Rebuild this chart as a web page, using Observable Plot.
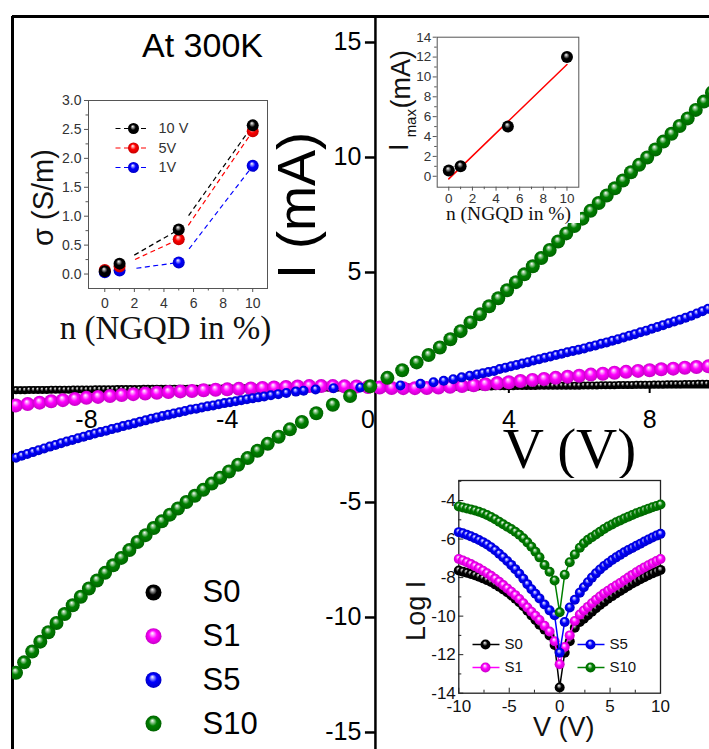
<!DOCTYPE html>
<html>
<head>
<meta charset="utf-8">
<script src="https://cdn.jsdelivr.net/npm/d3@7"></script>
<script src="https://cdn.jsdelivr.net/npm/@observablehq/plot@0.6"></script>
<style>
html,body{margin:0;padding:0;background:#fff;}
#chart{position:relative;width:709px;height:749px;overflow:hidden;background:#fff;}
#chart .layer{position:absolute;display:block;}
</style>
</head>
<body>
<div id="chart"></div>
<script>
// ================= DATA =================
// Main I–V curves: [V (V), I (mA)]
const S0V = [-10,-9.875,-9.75,-9.625,-9.5,-9.375,-9.25,-9.125,-9,-8.875,-8.75,-8.625,-8.5,-8.375,-8.25,-8.125,-8,-7.875,-7.75,-7.625,-7.5,-7.375,-7.25,-7.125,-7,-6.875,-6.75,-6.625,-6.5,-6.375,-6.25,-6.125,-6,-5.875,-5.75,-5.625,-5.5,-5.375,-5.25,-5.125,-5,-4.875,-4.75,-4.625,-4.5,-4.375,-4.25,-4.125,-4,-3.875,-3.75,-3.625,-3.5,-3.375,-3.25,-3.125,-3,-2.875,-2.75,-2.625,-2.5,-2.375,-2.25,-2.125,-2,-1.875,-1.75,-1.625,-1.5,-1.375,-1.25,-1.125,-1,-0.875,-0.75,-0.625,-0.5,-0.375,-0.25,-0.125,0,0.125,0.25,0.375,0.5,0.625,0.75,0.875,1,1.125,1.25,1.375,1.5,1.625,1.75,1.875,2,2.125,2.25,2.375,2.5,2.625,2.75,2.875,3,3.125,3.25,3.375,3.5,3.625,3.75,3.875,4,4.125,4.25,4.375,4.5,4.625,4.75,4.875,5,5.125,5.25,5.375,5.5,5.625,5.75,5.875,6,6.125,6.25,6.375,6.5,6.625,6.75,6.875,7,7.125,7.25,7.375,7.5,7.625,7.75,7.875,8,8.125,8.25,8.375,8.5,8.625,8.75,8.875,9,9.125,9.25,9.375,9.5,9.625,9.75,9.875,10];
const S0I = [-0.12,-0.12,-0.12,-0.11,-0.11,-0.11,-0.11,-0.11,-0.10,-0.10,-0.10,-0.10,-0.10,-0.09,-0.09,-0.09,-0.09,-0.09,-0.08,-0.08,-0.08,-0.08,-0.08,-0.07,-0.07,-0.07,-0.07,-0.07,-0.07,-0.06,-0.06,-0.06,-0.06,-0.06,-0.06,-0.05,-0.05,-0.05,-0.05,-0.05,-0.05,-0.05,-0.04,-0.04,-0.04,-0.04,-0.04,-0.04,-0.04,-0.04,-0.03,-0.03,-0.03,-0.03,-0.03,-0.03,-0.03,-0.03,-0.03,-0.02,-0.02,-0.02,-0.02,-0.02,-0.02,-0.02,-0.02,-0.02,-0.01,-0.01,-0.01,-0.01,-0.01,-0.01,-0.01,-0.01,0,0,0,0,0,0,0,0,0,0.01,0.01,0.01,0.01,0.01,0.01,0.01,0.02,0.02,0.02,0.02,0.02,0.02,0.02,0.03,0.03,0.03,0.03,0.03,0.04,0.04,0.04,0.04,0.04,0.05,0.05,0.05,0.05,0.05,0.06,0.06,0.06,0.06,0.06,0.07,0.07,0.07,0.07,0.07,0.08,0.08,0.08,0.08,0.08,0.09,0.09,0.09,0.09,0.10,0.10,0.10,0.10,0.11,0.11,0.11,0.11,0.12,0.12,0.12,0.12,0.13,0.13,0.13,0.14,0.14,0.14,0.14,0.15,0.15,0.15,0.16,0.16,0.16,0.17,0.17,0.17];
const S1V = [-10,-9.67,-9.33,-9,-8.67,-8.33,-8,-7.67,-7.33,-7,-6.67,-6.33,-6,-5.67,-5.33,-5,-4.67,-4.33,-4,-3.67,-3.33,-3,-2.67,-2.33,-2,-1.67,-1.33,-1,-0.67,-0.33,0,0.33,0.67,1,1.33,1.67,2,2.33,2.67,3,3.33,3.67,4,4.33,4.67,5,5.33,5.67,6,6.33,6.67,7,7.33,7.67,8,8.33,8.67,9,9.33,9.67,10];
const S1I = [-0.78,-0.72,-0.66,-0.6,-0.55,-0.5,-0.45,-0.41,-0.37,-0.33,-0.29,-0.26,-0.23,-0.2,-0.17,-0.15,-0.12,-0.1,-0.08,-0.06,-0.04,-0.02,0,0.02,0.04,0.06,0.06,0.06,0.05,0.04,0.02,0,-0.02,-0.03,-0.03,-0.02,0,0.03,0.06,0.1,0.14,0.19,0.23,0.28,0.33,0.37,0.42,0.47,0.51,0.56,0.6,0.64,0.68,0.72,0.75,0.79,0.82,0.86,0.89,0.92,0.96];
const S5 = [[-10,-3.05],[-9.84,-2.97],[-9.68,-2.89],[-9.52,-2.81],[-9.36,-2.73],[-9.2,-2.65],[-9.04,-2.57],[-8.88,-2.5],[-8.72,-2.42],[-8.56,-2.35],[-8.4,-2.28],[-8.24,-2.21],[-8.08,-2.14],[-7.92,-2.07],[-7.76,-2],[-7.6,-1.94],[-7.44,-1.88],[-7.28,-1.81],[-7.12,-1.75],[-6.96,-1.68],[-6.8,-1.62],[-6.64,-1.56],[-6.48,-1.49],[-6.32,-1.43],[-6.16,-1.36],[-6,-1.3],[-5.84,-1.24],[-5.68,-1.19],[-5.52,-1.13],[-5.36,-1.08],[-5.2,-1.02],[-5.04,-0.96],[-4.88,-0.92],[-4.72,-0.87],[-4.56,-0.82],[-4.4,-0.78],[-4.24,-0.73],[-4.08,-0.68],[-3.92,-0.64],[-3.76,-0.6],[-3.6,-0.55],[-3.44,-0.51],[-3.28,-0.47],[-3.12,-0.43],[-2.95,-0.39],[-2.76,-0.34],[-2.55,-0.29],[-2.32,-0.24],[-2.05,-0.18],[-1.83,-0.14],[-1.49,-0.09],[-0.98,-0.03],[-0.22,0],[0.92,0.09],[1.49,0.16],[1.86,0.23],[2.15,0.29],[2.42,0.36],[2.66,0.44],[2.89,0.51],[3.1,0.57],[3.26,0.62],[3.42,0.67],[3.58,0.72],[3.74,0.8],[3.9,0.86],[4.06,0.92],[4.22,0.98],[4.38,1.04],[4.54,1.1],[4.7,1.17],[4.86,1.23],[5.02,1.29],[5.18,1.35],[5.34,1.41],[5.5,1.47],[5.66,1.53],[5.82,1.59],[5.98,1.64],[6.14,1.7],[6.3,1.77],[6.46,1.83],[6.62,1.9],[6.78,1.96],[6.94,2.03],[7.1,2.1],[7.26,2.17],[7.42,2.25],[7.58,2.32],[7.74,2.4],[7.9,2.47],[8.06,2.55],[8.22,2.63],[8.38,2.71],[8.54,2.79],[8.7,2.87],[8.86,2.95],[9.02,3.03],[9.18,3.12],[9.34,3.22],[9.5,3.32],[9.66,3.42],[9.82,3.52],[9.98,3.63]];
const S10 = [[-10,-12.4],[-9.77,-11.95],[-9.54,-11.48],[-9.31,-11.05],[-9.08,-10.64],[-8.85,-10.24],[-8.62,-9.85],[-8.39,-9.47],[-8.16,-9.1],[-7.93,-8.74],[-7.7,-8.39],[-7.47,-8.06],[-7.24,-7.73],[-7.01,-7.41],[-6.78,-7.07],[-6.55,-6.72],[-6.32,-6.42],[-6.09,-6.11],[-5.86,-5.82],[-5.63,-5.53],[-5.4,-5.26],[-5.16,-4.98],[-4.92,-4.71],[-4.68,-4.45],[-4.44,-4.18],[-4.2,-3.92],[-3.95,-3.65],[-3.69,-3.36],[-3.42,-3.07],[-3.14,-2.75],[-2.85,-2.45],[-2.54,-2.14],[-2.22,-1.82],[-1.88,-1.5],[-1.47,-1.12],[-1,-0.75],[-0.51,-0.37],[0.06,0.05],[0.55,0.42],[0.97,0.75],[1.38,1.09],[1.72,1.41],[2.04,1.74],[2.34,2.1],[2.63,2.45],[2.91,2.83],[3.18,3.18],[3.44,3.53],[3.7,3.88],[3.95,4.23],[4.2,4.58],[4.44,4.92],[4.68,5.27],[4.92,5.63],[5.16,5.98],[5.4,6.35],[5.63,6.7],[5.86,7.02],[6.09,7.34],[6.32,7.68],[6.55,8.02],[6.78,8.35],[7.01,8.66],[7.24,9],[7.47,9.36],[7.7,9.68],[7.93,10],[8.16,10.35],[8.39,10.69],[8.62,11.03],[8.85,11.37],[9.08,11.7],[9.31,12.07],[9.54,12.43],[9.77,12.82],[10,13.2]];
const mainYTicks = [15, 10, 5, -5, -10, -15];
const mainXTicks = [-8, -4, 0, 4, 8];
const sampleNames = ["S0", "S1", "S5", "S10"];

// Inset: conductivity vs NGQD %
const nPct = [0, 1, 5, 10];
const sigma10V = [0.05, 0.18, 0.77, 2.57];
const sigma5V = [0.07, 0.13, 0.6, 2.47];
const sigma1V = [0.03, 0.06, 0.2, 1.87];
const sigmaNames = ["10 V", "5V", "1V"];
const sigXTicks = [0, 2, 4, 6, 8, 10], sigXMinor = [1, 3, 5, 7, 9];
const sigYTicks = [0, 0.5, 1, 1.5, 2, 2.5, 3], sigYMinor = [0.25, 0.75, 1.25, 1.75, 2.25, 2.75];

// Inset: Imax vs NGQD %
const imax = [0.57, 1.0, 5.0, 12.0];
const fitN = [0, 10], fitI = [-0.26, 11.25];
const imXTicks = [0, 2, 4, 6, 8, 10], imXMinor = [1, 3, 5, 7, 9];
const imYTicks = [0, 2, 4, 6, 8, 10, 12, 14], imYMinor = [1, 3, 5, 7, 9, 11, 13];

// Inset: log I vs V
const logV = [-10,-9.6,-9.2,-8.8,-8.4,-8,-7.6,-7.2,-6.8,-6.4,-6,-5.6,-5.2,-4.8,-4.4,-4,-3.6,-3.2,-2.8,-2.4,-2,-1.5,-1,-0.5,0,0.5,1,1.5,2,2.4,2.8,3.2,3.6,4,4.4,4.8,5.2,5.6,6,6.4,6.8,7.2,7.6,8,8.4,8.8,9.2,9.6,10];
const logS0 = [-7.63,-7.69,-7.75,-7.81,-7.88,-7.96,-8.04,-8.13,-8.23,-8.35,-8.47,-8.61,-8.76,-8.92,-9.09,-9.28,-9.49,-9.72,-9.96,-10.2,-10.45,-10.7,-11.0,-11.5,-13.7,-11.9,-11.3,-10.6,-10.3,-10.13,-9.95,-9.77,-9.59,-9.42,-9.26,-9.1,-8.96,-8.82,-8.69,-8.56,-8.43,-8.31,-8.2,-8.09,-7.98,-7.88,-7.78,-7.69,-7.6];
const logS1 = [-7.03,-7.11,-7.2,-7.3,-7.41,-7.52,-7.64,-7.77,-7.91,-8.06,-8.22,-8.39,-8.56,-8.73,-8.91,-9.11,-9.33,-9.55,-9.77,-9.98,-10.2,-10.5,-10.8,-11.3,-12.5,-11.6,-11.0,-10.25,-9.92,-9.71,-9.52,-9.33,-9.15,-8.98,-8.82,-8.68,-8.54,-8.41,-8.28,-8.14,-8.0,-7.86,-7.72,-7.59,-7.47,-7.36,-7.25,-7.14,-7.03];
const logS5 = [-5.64,-5.7,-5.78,-5.86,-5.95,-6.05,-6.16,-6.28,-6.42,-6.58,-6.76,-6.94,-7.14,-7.34,-7.56,-7.8,-8.06,-8.34,-8.6,-8.84,-9.08,-9.4,-9.7,-9.95,-11.9,-10.3,-9.55,-9.15,-8.78,-8.5,-8.24,-8.0,-7.78,-7.58,-7.4,-7.24,-7.09,-6.95,-6.82,-6.69,-6.57,-6.46,-6.35,-6.24,-6.13,-6.02,-5.92,-5.82,-5.73];
const logS10 = [-4.31,-4.36,-4.41,-4.46,-4.52,-4.58,-4.66,-4.75,-4.85,-4.97,-5.1,-5.23,-5.36,-5.48,-5.62,-5.78,-5.96,-6.17,-6.4,-6.66,-6.95,-7.35,-7.7,-8.15,-9.8,-7.85,-7.2,-6.8,-6.45,-6.22,-6.04,-5.9,-5.76,-5.62,-5.48,-5.35,-5.24,-5.13,-5.03,-4.93,-4.84,-4.75,-4.66,-4.58,-4.5,-4.42,-4.35,-4.28,-4.21];
const logXTicks = [-10, -5, 0, 5, 10], logXMinor = [-7.5, -2.5, 2.5, 7.5];
const logYTicks = [-4, -6, -8, -10, -12, -14], logYMinor = [-3, -5, -7, -9, -11, -13];

// ================= STYLE =================
const SANS = "Liberation Sans, Arial, Helvetica, sans-serif";
const SERIF = "Liberation Serif, Times New Roman, serif";
const colors = {S0: "#000000", S1: "#ff00ff", S5: "#0000ff", S10: "#008000", red: "#ff0000"};
const CENTER = {textAnchor: "middle", lineAnchor: "middle"};
const LEFTMID = {textAnchor: "start", lineAnchor: "middle"};

// sphere-like gradients
const defs = d3.select("body").append("svg").attr("width", 0).attr("height", 0)
  .style("position", "absolute").style("left", "0").style("top", "0").append("defs");
function sphereGrad(id, base) {
  const g = defs.append("radialGradient").attr("id", id)
    .attr("cx", "50%").attr("cy", "50%").attr("r", "50%").attr("fx", "42%").attr("fy", "30%");
  g.append("stop").attr("offset", "0").attr("stop-color", "#ffffff");
  g.append("stop").attr("offset", "0.2").attr("stop-color", d3.interpolateRgb(base, "#ffffff")(0.6));
  g.append("stop").attr("offset", "0.5").attr("stop-color", base);
  g.append("stop").attr("offset", "1").attr("stop-color", d3.color(base).darker(0.7).formatHex());
}
sphereGrad("sph-S0", "#000000");
sphereGrad("sph-S1", colors.S1);
sphereGrad("sph-S5", colors.S5);
sphereGrad("sph-S10", colors.S10);
sphereGrad("sph-red", colors.red);
const sph = k => `url(#sph-${k})`;

function panelScales(c) {
  const sx = Plot.scale({x: {domain: c.xd, range: [c.mL, c.width - c.mR]}});
  const sy = Plot.scale({y: {domain: c.yd, range: [c.height - c.mB, c.mT]}});
  return {
    x: sx, y: sy,
    dx: px => sx.invert(sx.apply(c.xd[0]) + px) - c.xd[0],
    dy: px => sy.invert(sy.apply(c.yd[0]) - px) - c.yd[0]
  };
}
function plotOpts(c, marks) {
  return {
    width: c.width, height: c.height,
    marginLeft: c.mL, marginTop: c.mT, marginRight: c.mR, marginBottom: c.mB,
    x: {domain: c.xd, axis: null}, y: {domain: c.yd, axis: null},
    style: {background: c.bg || "white", overflow: "visible"},
    marks
  };
}
const chart = document.getElementById("chart");
function place(el, c) {
  el.classList.add("layer");
  el.style.left = c.left + "px";
  el.style.top = c.top + "px";
  chart.appendChild(el);
}

// ================= MAIN PLOT =================
const cm = {left: 0, top: 0, width: 709, height: 749, mL: 12, mT: 16, mR: 0, mB: 0, xd: [-10.1, 9.7], yd: [-15.74, 16.13]};
const sm = panelScales(cm);
const yAxisAt = 0.21;
const yTickLen = sm.dx(10);
const xTickLen = sm.dy(6);

const mainMarks = [
  Plot.ruleY([0], {stroke: "#000", strokeWidth: 2}),
  Plot.ruleX([yAxisAt], {stroke: "#000", strokeWidth: 2.5}),
  Plot.ruleY(mainYTicks, {x1: yAxisAt - yTickLen, x2: yAxisAt, stroke: "#000", strokeWidth: 2.5}),
  Plot.text(mainYTicks, {x: yAxisAt - yTickLen, y: d => d, text: d => String(d), dx: -4, textAnchor: "end", lineAnchor: "middle", fontSize: 25, fontFamily: SANS, fill: "#000"}),
  Plot.ruleX(mainXTicks.filter(d => d !== 0), {x: d => d, y1: 0, y2: -xTickLen, stroke: "#000", strokeWidth: 2}),
  Plot.text(mainXTicks, {x: d => d, y: 0, text: d => String(d), dy: 33, ...CENTER, fontSize: 25, fontFamily: SANS, fill: "#000"}),
  Plot.ruleX([cm.xd[0]], {stroke: "#000", strokeWidth: 3}),
  Plot.ruleY([cm.yd[1]], {stroke: "#000", strokeWidth: 3}),
  Plot.dot(S0V.map((v, i) => [v, S0I[i]]), {x: d => d[0], y: d => d[1], r: 4, fill: sph("S0"), clip: true}),
  Plot.dot(S1V.map((v, i) => [v, S1I[i]]), {x: d => d[0], y: d => d[1], r: 7, fill: sph("S1"), clip: true}),
  Plot.dot(S5, {x: d => d[0], y: d => d[1], r: 5, fill: sph("S5"), clip: true}),
  Plot.dot(S10, {x: d => d[0], y: d => d[1], r: 7, fill: sph("S10"), clip: true}),
  Plot.text(["At 300K"], {frameAnchor: "top-left", dx: 190, dy: 30, ...CENTER, text: d => d, fontSize: 34, fontFamily: SANS, fill: "#000"}),
  Plot.text(["V (V)"], {frameAnchor: "top-left", dx: 557, dy: 433, ...CENTER, text: d => d, fontSize: 57, fontFamily: SERIF, fill: "#000"}),
  Plot.text(["I (mA)"], {frameAnchor: "top-left", dx: 285, dy: 189, ...CENTER, rotate: -90, text: d => d, fontSize: 54, fontFamily: SANS, fill: "#000"})
];
sampleNames.forEach((name, i) => {
  mainMarks.push(Plot.dot([name], {frameAnchor: "top-left", dx: 141, dy: 576 + i * 43.7, r: 8, fill: sph(name)}));
  mainMarks.push(Plot.text([name], {frameAnchor: "top-left", dx: 190, dy: 576 + i * 43.7, ...LEFTMID, text: d => d, fontSize: 31, fontFamily: SANS, fill: "#000"}));
});
place(Plot.plot(plotOpts(cm, mainMarks)), cm);

// ================= INSET 1: sigma =================
const c1 = {left: 22, top: 80, width: 248, height: 267, mL: 66, mT: 20, mR: 3, mB: 59, xd: [-1.1, 11], yd: [-0.25, 3.0]};
const s1 = panelScales(c1);
function gapSegs(xv, yv, sc, g0, g1) {
  const out = [];
  for (let i = 0; i < xv.length - 1; i++) {
    const ax = sc.x.apply(xv[i]), ay = sc.y.apply(yv[i]);
    const bx = sc.x.apply(xv[i + 1]), by = sc.y.apply(yv[i + 1]);
    const L = Math.hypot(bx - ax, by - ay);
    if (L <= g0 + g1) continue;
    const ux = (bx - ax) / L, uy = (by - ay) / L;
    out.push({x1: sc.x.invert(ax + ux * g0), y1: sc.y.invert(ay + uy * g0), x2: sc.x.invert(bx - ux * g1), y2: sc.y.invert(by - uy * g1)});
  }
  return out;
}
const sigSeries = [
  {name: sigmaNames[0], vals: sigma10V, color: "#000000", grad: "S0"},
  {name: sigmaNames[1], vals: sigma5V, color: colors.red, grad: "red"},
  {name: sigmaNames[2], vals: sigma1V, color: colors.S5, grad: "S5"}
];
const m1 = [
  Plot.frame({stroke: "#555", strokeWidth: 1}),
  Plot.ruleX(sigXTicks, {x: d => d, y1: c1.yd[0], y2: c1.yd[0] - s1.dy(4), stroke: "#555"}),
  Plot.ruleX(sigXMinor, {x: d => d, y1: c1.yd[0], y2: c1.yd[0] - s1.dy(2.5), stroke: "#555"}),
  Plot.ruleY(sigYTicks, {y: d => d, x1: c1.xd[0], x2: c1.xd[0] - s1.dx(4), stroke: "#555"}),
  Plot.ruleY(sigYMinor, {y: d => d, x1: c1.xd[0], x2: c1.xd[0] - s1.dx(2.5), stroke: "#555"}),
  Plot.text(sigXTicks, {x: d => d, y: c1.yd[0], dy: 15, ...CENTER, text: d => String(d), fontSize: 14, fontFamily: SANS, fill: "#333"}),
  Plot.text(sigYTicks, {x: c1.xd[0], y: d => d, dx: -7, textAnchor: "end", lineAnchor: "middle", text: d => d.toFixed(1), fontSize: 14, fontFamily: SANS, fill: "#333"})
];
[...sigSeries].reverse().forEach(s => {
  m1.push(Plot.link(gapSegs(nPct, s.vals, s1, 17, 3), {x1: "x1", y1: "y1", x2: "x2", y2: "y2", stroke: s.color, strokeWidth: 1.2, strokeDasharray: "5,3.5"}));
});
[...sigSeries].reverse().forEach(s => {
  m1.push(Plot.dot(nPct.map((n, i) => [n, s.vals[i]]), {x: d => d[0], y: d => d[1], r: 6, fill: sph(s.grad)}));
});
sigSeries.forEach((s, i) => {
  const yy = s1.y.invert(48 + i * 19.5);
  m1.push(Plot.link([s.name], {x1: s1.x.invert(93), x2: s1.x.invert(126), y1: yy, y2: yy, stroke: s.color, strokeWidth: 1.2, strokeDasharray: "5,3.5"}));
  m1.push(Plot.dot([s.name], {x: s1.x.invert(111), y: yy, r: 5.5, fill: sph(s.grad)}));
  m1.push(Plot.text([s.name], {x: s1.x.invert(136), y: yy, ...LEFTMID, text: d => d, fontSize: 14.5, fontFamily: SANS, fill: "#333"}));
});
m1.push(Plot.text(["σ (S/m)"], {frameAnchor: "left", dx: -45, dy: 3, ...CENTER, rotate: -90, text: d => d, fontSize: 29, fontFamily: SANS, fill: "#111"}));
m1.push(Plot.text(["n (NGQD in %)"], {frameAnchor: "bottom", dx: -12.5, dy: 40, ...CENTER, text: d => d, fontSize: 33, fontFamily: SERIF, fill: "#111"}));
place(Plot.plot(plotOpts(c1, m1)), c1);

// ================= INSET 2: Imax =================
const c2 = {left: 383, top: 23, width: 197, height: 200, mL: 53.7, mT: 13.7, mR: 1.7, mB: 36.3, xd: [-0.98, 11], yd: [-1.1, 14]};
const s2 = panelScales(c2);
const m2 = [
  Plot.frame({stroke: "#555", strokeWidth: 1}),
  Plot.ruleX(imXTicks, {x: d => d, y1: c2.yd[0], y2: c2.yd[0] - s2.dy(4), stroke: "#555"}),
  Plot.ruleX(imXMinor, {x: d => d, y1: c2.yd[0], y2: c2.yd[0] - s2.dy(2.5), stroke: "#555"}),
  Plot.ruleY(imYTicks, {y: d => d, x1: c2.xd[0], x2: c2.xd[0] - s2.dx(4), stroke: "#555"}),
  Plot.ruleY(imYMinor, {y: d => d, x1: c2.xd[0], x2: c2.xd[0] - s2.dx(2.5), stroke: "#555"}),
  Plot.text(imXTicks, {x: d => d, y: c2.yd[0], dy: 11, ...CENTER, text: d => String(d), fontSize: 13.5, fontFamily: SANS, fill: "#333"}),
  Plot.text(imYTicks, {x: c2.xd[0], y: d => d, dx: -6, textAnchor: "end", lineAnchor: "middle", text: d => String(d), fontSize: 13.5, fontFamily: SANS, fill: "#333"}),
  Plot.line(fitN.map((n, i) => [n, fitI[i]]), {x: d => d[0], y: d => d[1], stroke: colors.red, strokeWidth: 1.5}),
  Plot.dot(nPct.map((n, i) => [n, imax[i]]), {x: d => d[0], y: d => d[1], r: 6, fill: sph("S0")}),
  Plot.text(["I"], {frameAnchor: "top-left", dx: -37.5, dy: 110, ...CENTER, rotate: -90, text: d => d, fontSize: 27, fontFamily: SANS, fill: "#111"}),
  Plot.text(["max"], {frameAnchor: "top-left", dx: -26, dy: 86, ...CENTER, rotate: -90, text: d => d, fontSize: 15, fontFamily: SANS, fill: "#111"}),
  Plot.text(["(mA)"], {frameAnchor: "top-left", dx: -36, dy: 42, ...CENTER, rotate: -90, text: d => d, fontSize: 27, fontFamily: SANS, fill: "#111"}),
  Plot.text(["n (NGQD in %)"], {frameAnchor: "bottom", dx: 0.5, dy: 27, ...CENTER, text: d => d, fontSize: 19.5, fontFamily: SERIF, fill: "#111"})
];
place(Plot.plot(plotOpts(c2, m2)), c2);

// ================= INSET 3: log I =================
const c3 = {left: 395, top: 478, width: 314, height: 271, mL: 63.3, mT: 2, mR: 49, mB: 56.3, xd: [-10, 10], yd: [-14, -2.96]};
const s3 = panelScales(c3);
const logSeries = [
  {name: "S0", vals: logS0}, {name: "S1", vals: logS1}, {name: "S5", vals: logS5}, {name: "S10", vals: logS10}
];
const m3 = [
  Plot.frame({stroke: "#222", strokeWidth: 1.3}),
  Plot.ruleX(logXTicks, {x: d => d, y1: c3.yd[0], y2: c3.yd[0] + s3.dy(5), stroke: "#222"}),
  Plot.ruleX(logXMinor, {x: d => d, y1: c3.yd[0], y2: c3.yd[0] + s3.dy(3), stroke: "#222"}),
  Plot.ruleY(logYTicks, {y: d => d, x1: c3.xd[0], x2: c3.xd[0] + s3.dx(5), stroke: "#222"}),
  Plot.ruleY(logYMinor, {y: d => d, x1: c3.xd[0], x2: c3.xd[0] + s3.dx(3), stroke: "#222"}),
  Plot.text(logXTicks, {x: d => d, y: c3.yd[0], dy: 13.5, ...CENTER, text: d => String(d), fontSize: 17, fontFamily: SANS, fill: "#111"}),
  Plot.text(logYTicks, {x: c3.xd[0], y: d => d, dx: -3, textAnchor: "end", lineAnchor: "middle", text: d => String(d), fontSize: 17, fontFamily: SANS, fill: "#111"})
];
logSeries.forEach(s => {
  const pts = logV.map((v, i) => [v, s.vals[i]]);
  m3.push(Plot.line(pts, {x: d => d[0], y: d => d[1], stroke: colors[s.name], strokeWidth: 1.5}));
  m3.push(Plot.dot(pts, {x: d => d[0], y: d => d[1], r: 5, fill: sph(s.name)}));
});
const legPos = [[77, 166], [77, 189], [182, 166], [182, 189]];
logSeries.forEach((s, i) => {
  const [lx, ly] = legPos[i];
  const yy = s3.y.invert(ly);
  m3.push(Plot.link([s.name], {x1: s3.x.invert(lx), x2: s3.x.invert(lx + 27), y1: yy, y2: yy, stroke: colors[s.name], strokeWidth: 1.5}));
  m3.push(Plot.dot([s.name], {x: s3.x.invert(lx + 13), y: yy, r: 5, fill: sph(s.name)}));
  m3.push(Plot.text([s.name], {x: s3.x.invert(lx + 32), y: yy, ...LEFTMID, text: d => d, fontSize: 15, fontFamily: SANS, fill: "#111"}));
});
m3.push(Plot.text(["Log I"], {frameAnchor: "left", dx: -42, dy: 24, ...CENTER, rotate: -90, text: d => d, fontSize: 27, fontFamily: SANS, fill: "#111"}));
m3.push(Plot.text(["V (V)"], {frameAnchor: "bottom", dx: 4, dy: 34, ...CENTER, text: d => d, fontSize: 27, fontFamily: SANS, fill: "#111"}));
place(Plot.plot(plotOpts(c3, m3)), c3);
</script>
</body>
</html>
